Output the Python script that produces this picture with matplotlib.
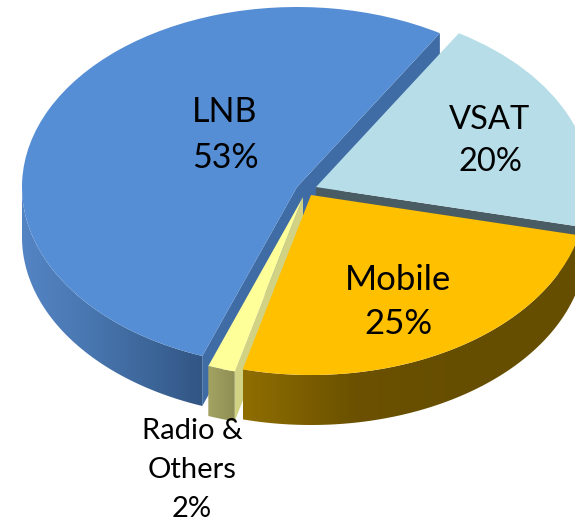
import numpy as np
import matplotlib
matplotlib.use("Agg")
import matplotlib.pyplot as plt
from matplotlib.colors import LinearSegmentedColormap
from matplotlib.patches import Polygon
from matplotlib.transforms import Affine2D

categories = ["LNB", "Radio &\nOthers", "Mobile", "VSAT"]
values = [53.1, 1.6, 25.4, 19.9]
start_angle = 58.7

top_colors = ["#558ED5", "#FFFF99", "#FFC000", "#B7DEE8"]
# slice apex positions in pixels (explosion of each slice)
apex_x = [297, 303, 311, 316]
apex_y = [187, 197, 195, 187]
draw_order = [1, 3, 4, 2]
# colour of visible cut faces at the (start, end) edge of each slice
face_colors = [("#3F6CA5", "#3F6CA5"), (None, "#D2D285"), (None, None), ("#4A5C63", None)]
side_stops = [
    ["#5484C4", "#4A78B2", "#3E689C", "#325684"],
    ["#A3A363", "#8F8F55"],
    ["#8F6E00", "#6B5100", "#664E00", "#664E00"],
    ["#7F9BA2", "#7F9BA2"],
]
label_pos = [(225, 135), (192, 470), (398, 302), (490, 141)]
label_size = [24.5, 21, 25, 23.5]
label_spacing = [1.53, 1.6, 1.5, 1.5]

RX, RY, DEPTH = 275, 180, 50

plt.rcParams["font.family"] = ["Lato", "DejaVu Sans"]
fig = plt.figure(figsize=(5.75, 5.21), dpi=100)
ax = fig.add_axes([0, 0, 1, 1])
wedges, _ = ax.pie(values, startangle=start_angle, counterclock=True, colors=top_colors,
                   wedgeprops=dict(linewidth=0), frame=True)
ax.set_xlim(0, 575)
ax.set_ylim(521, 0)
ax.axis("off")


def rim(theta, i):
    t = np.radians(theta)
    return apex_x[i] + RX * np.cos(t), apex_y[i] - RY * np.sin(t)


edges = start_angle + np.concatenate([[0], np.cumsum(values)]) * 3.6
for i, w in enumerate(wedges):
    z = draw_order[i] * 10
    w.set_transform(Affine2D().scale(RX, -RY).translate(apex_x[i], apex_y[i]) + ax.transData)
    w.set_zorder(z + 3)
    # cut faces
    for k, col in enumerate(face_colors[i]):
        if col is None:
            continue
        x, y = rim(edges[i + k], i)
        ax.add_patch(Polygon([(apex_x[i], apex_y[i]), (x, y), (x, y + DEPTH),
                              (apex_x[i], apex_y[i] + DEPTH)], closed=True, fc=col, lw=0, zorder=z + 1))
    # outer side with horizontal gradient
    a = edges[i] if edges[i] >= 180 else 180
    b = edges[i + 1] if edges[i + 1] <= 360 else 360
    if b > a:
        th = np.linspace(a, b, 200)
        xs, ys = rim(th, i)
        poly = Polygon(np.r_[np.c_[xs, ys], np.c_[xs[::-1], ys[::-1] + DEPTH]], closed=True,
                       fc="none", lw=0, transform=ax.transData)
        ax.add_patch(poly)
        cmap = LinearSegmentedColormap.from_list("s", side_stops[i])
        im = ax.imshow(np.linspace(0, 1, 256)[None, :], extent=(xs.min(), xs.max(), 521, 0),
                       cmap=cmap, aspect="auto", zorder=z + 2, interpolation="bilinear")
        im.set_clip_path(poly)

ax.set_xlim(0, 575)
ax.set_ylim(521, 0)

for i, cat in enumerate(categories):
    ax.text(label_pos[i][0], label_pos[i][1], f"{cat}\n{round(values[i])}%", ha="center", va="center",
            multialignment="center", fontsize=label_size[i], linespacing=label_spacing[i],
            color="black", zorder=100)

fig.savefig("out.png", dpi=100)
